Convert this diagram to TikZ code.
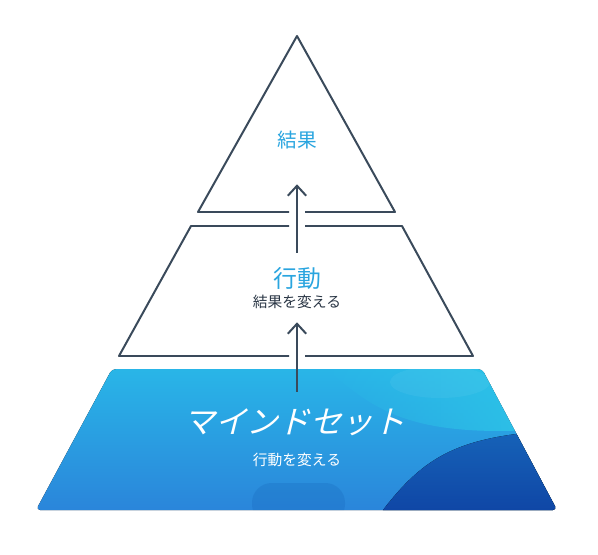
\documentclass[tikz,border=0pt]{standalone}
\usepackage{fontspec}
\usepackage{xcolor}
\usepackage{tikz}
\usetikzlibrary{positioning,arrows.meta,calc,fadings}
\newfontfamily\jpfont{Noto Sans CJK JP}
\definecolor{linecol}{HTML}{3A4A5B}
\definecolor{titleblue}{HTML}{2AA5DF}
\definecolor{subdark}{HTML}{2A3645}
\definecolor{mindtop}{HTML}{29B7E8}
\definecolor{mindbot}{HTML}{2A84DA}
\definecolor{mindcyan}{HTML}{2DC6E8}
\definecolor{minddeep}{HTML}{1663B8}
\definecolor{minddeeper}{HTML}{0F45A5}
\tikzfading[name=fadeleft, left color=transparent!100, right color=transparent!0]

\begin{document}
\begin{tikzpicture}[
    x=0.025cm, y=0.025cm,
    font=\jpfont,
    outline/.style={draw=linecol, line width=1.42pt, line join=round},
    arrow/.style={draw=linecol, line width=1.42pt,
                  -{Straight Barb[length=2.5mm, width=4.6mm]}},
    label/.style={inner sep=0pt, align=center},
    title/.style={label, text=titleblue},
    sub/.style={label, text=subdark, font=\jpfont\fontsize{10.5}{12}\selectfont}
]
\useasboundingbox (0,0) rectangle (598,554);

% top and middle levels
\draw[outline] (289,342) -- (198,342) -- (297,518) -- (395,342) -- (305,342);
\draw[outline] (289,328) -- (191,328) -- (119,198) -- (289,198);
\draw[outline] (305,328) -- (402,328) -- (473,198) -- (305,198);

% bottom level, filled
\begin{scope}
    \clip[rounded corners=3] (112,185) -- (482,185) -- (557,44) -- (36,44) -- cycle;
    \fill[top color=mindtop, bottom color=mindbot] (30,40) rectangle (560,190);
    \fill[mindcyan, path fading=fadeleft]
        (320,190) .. controls (370,150) and (400,112) .. (560,126)
        -- (560,190) -- cycle;
    \fill[white, opacity=0.05] (440,172) ellipse (50 and 16);
    \fill[minddeep, opacity=0.25, rounded corners=14] (252,30) rectangle (345,71);
    \fill[top color=minddeep, bottom color=minddeeper]
        (380,40) .. controls (425,100) and (460,118) .. (560,124)
        -- (560,40) -- cycle;
\end{scope}

\node[title, font=\jpfont\fontsize{14}{16}\selectfont, minimum height=2.2cm]
    (res) at (297,414) {結果};
\node[title, font=\jpfont\fontsize{17}{19}\selectfont, minimum height=1.25cm]
    (act) at (297,276) {行動};
\node[sub, minimum height=1cm] (actsub) at (297,252) {結果を変える};
\begin{scope}[shift={(297,132)}, xslant=0.25, transform shape]
    \node[label, text=white, font=\jpfont\fontsize{22.5}{26}\selectfont,
          minimum height=1.5cm] (mind) at (0,0) {マインドセット};
\end{scope}
\node[sub, text=white] (mindsub) at (297,94) {行動を変える};

\draw[arrow] (act) -- (res);
\draw[arrow] (mind.center |- mind.north) -- (actsub.south);

\end{tikzpicture}
\end{document}
